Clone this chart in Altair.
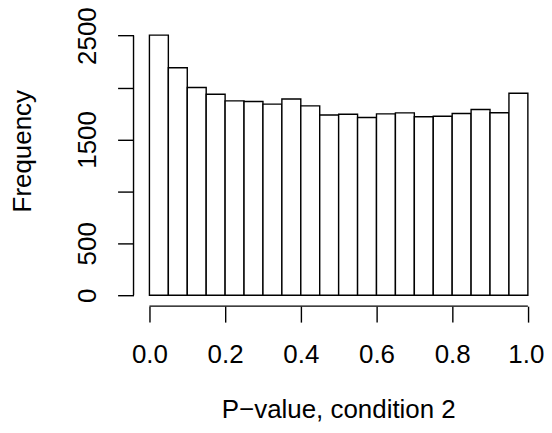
import altair as alt
import pandas as pd

bin_start = [round(i * 0.05, 2) for i in range(20)]
bin_end = [round((i + 1) * 0.05, 2) for i in range(20)]
counts = [2505, 2190, 2000, 1935, 1872, 1865, 1840, 1890, 1823, 1735,
          1743, 1712, 1746, 1756, 1718, 1724, 1750, 1788, 1757, 1945]
x_ticks = [0.0, 0.2, 0.4, 0.6, 0.8, 1.0]
y_ticks = [0, 500, 1000, 1500, 2000, 2500]

df = pd.DataFrame({"start": bin_start, "end": bin_end, "count": counts})

FONT = "Liberation Sans"
FS = 26
xdom = [-0.042, 1.04]
ydom = [-105, 2600]

xscale = alt.Scale(domain=xdom, nice=False, zero=False)
yscale = alt.Scale(domain=ydom, nice=False, zero=False)

bars = alt.Chart(df).mark_rect(fill="white", stroke="black", strokeWidth=1.4).encode(
    x=alt.X("start:Q", scale=xscale,
            axis=alt.Axis(values=x_ticks, format=".1f", domain=False, grid=False,
                          tickSize=16, tickColor="black", tickWidth=1.4,
                          labelFont=FONT, labelFontSize=FS, labelColor="black",
                          labelBaseline="alphabetic", labelPadding=41, labelFlush=False,
                          labelOverlap=False,
                          labelOffset={"condition": {"test": "datum.value == 1", "value": -2}, "value": 0},
                          title="P\u2212value, condition 2", titleFont=FONT,
                          titleFontSize=FS, titleFontWeight="normal", titleColor="black",
                          titleBaseline="alphabetic", titleY=112)),
    x2="end:Q",
    y=alt.Y("count:Q", scale=yscale,
            axis=alt.Axis(values=y_ticks, format="d", domain=False, grid=False,
                          tickSize=16, tickColor="black", tickWidth=1.4,
                          labelFont=FONT, labelFontSize=FS, labelColor="black",
                          labelAngle=-90, labelAlign="center", labelBaseline="alphabetic",
                          labelPadding=22, labelFlush=False, labelOverlap=False,
                          labelExpr="(datum.value == 1000 || datum.value == 2000) ? '' : datum.label",
                          title="Frequency", titleFont=FONT, titleFontSize=FS,
                          titleFontWeight="normal", titleColor="black",
                          titleAngle=-90, titleAlign="center", titleBaseline="alphabetic",
                          titleX=-103, titleY=126)),
    y2=alt.Y2(datum=0),
)

yaxis_line = pd.DataFrame({"x": [xdom[0]], "y0": [y_ticks[0]], "y1": [y_ticks[-1]]})
xaxis_line = pd.DataFrame({"y": [ydom[0]], "x0": [x_ticks[0]], "x1": [x_ticks[-1]]})

yrule = alt.Chart(yaxis_line).mark_rule(color="black", strokeWidth=1.4).encode(
    x=alt.X("x:Q", scale=xscale), y=alt.Y("y0:Q", scale=yscale), y2="y1:Q")
xrule = alt.Chart(xaxis_line).mark_rule(color="black", strokeWidth=1.4).encode(
    y=alt.Y("y:Q", scale=yscale), x=alt.X("x0:Q", scale=xscale), x2="x1:Q")

chart = alt.layer(bars, yrule, xrule).properties(
    width=411, height=282,
    background="white",
    autosize=alt.AutoSizeParams(type="none"),
    padding={"left": 126, "top": 16.5, "right": 1, "bottom": 118},
).configure_view(stroke=None)

chart.save("out.html", embed_options={"renderer": "svg", "actions": False})
